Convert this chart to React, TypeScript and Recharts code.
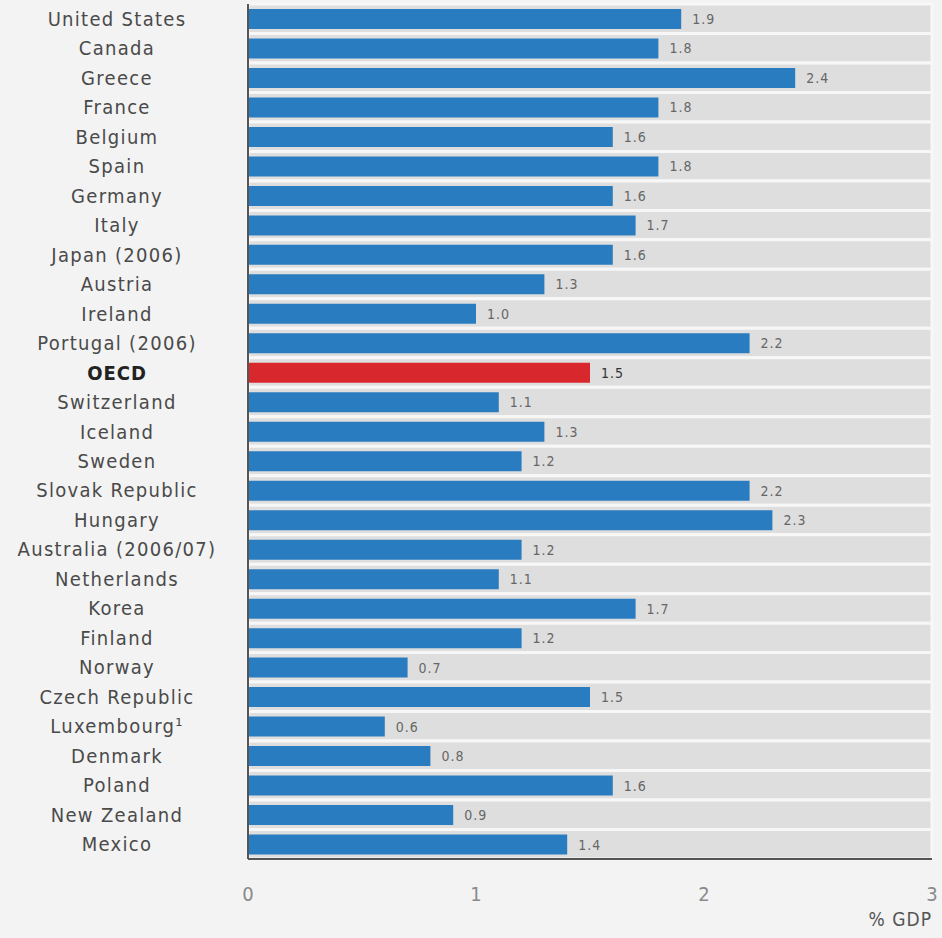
import React from 'react';
import { BarChart, Bar, XAxis, YAxis, Cell, LabelList, ReferenceArea, CartesianGrid, Label } from 'recharts';

const countries = [
  'United States', 'Canada', 'Greece', 'France', 'Belgium', 'Spain', 'Germany', 'Italy',
  'Japan (2006)', 'Austria', 'Ireland', 'Portugal (2006)', 'OECD', 'Switzerland', 'Iceland',
  'Sweden', 'Slovak Republic', 'Hungary', 'Australia (2006/07)', 'Netherlands', 'Korea',
  'Finland', 'Norway', 'Czech Republic', 'Luxembourg\u00b9', 'Denmark', 'Poland', 'New Zealand', 'Mexico',
];
const values = [
  1.9, 1.8, 2.4, 1.8, 1.6, 1.8, 1.6, 1.7, 1.6, 1.3, 1.0, 2.2, 1.5, 1.1, 1.3,
  1.2, 2.2, 2.3, 1.2, 1.1, 1.7, 1.2, 0.7, 1.5, 0.6, 0.8, 1.6, 0.9, 1.4,
];
const xTicks = [0, 1, 2, 3];
const highlight = 'OECD';

const data = countries.map((c, i) => ({ name: c, value: values[i] }));

const FONT = '"DejaVu Sans Condensed", "DejaVu Sans", sans-serif';

const YTick = (props: any) => {
  const { y, payload } = props;
  const isH = payload.value === highlight;
  return (
    <text x={117} y={y} dy={7} textAnchor="middle" fontFamily={FONT} fontSize={20}
      style={{ fontStretch: 'condensed', letterSpacing: isH ? 1 : 1.3 }}
      fontWeight={isH ? 700 : 400} fill={isH ? '#222' : '#4a4a4a'}>
      {payload.value}
    </text>
  );
};

const ValueLabel = (props: any) => {
  const { x, y, width, height, value, index } = props;
  const isH = countries[index] === highlight;
  return (
    <text x={x + width + 11} y={y + height / 2} dy={5} fontFamily={FONT} fontSize={14}
      style={{ fontStretch: 'condensed', letterSpacing: 1 }}
      fill={isH ? '#333' : '#666'}>
      {Number(value).toFixed(1)}
    </text>
  );
};

const GdpLabel = (props: any) => {
  const { viewBox } = props;
  return (
    <text x={viewBox.x + viewBox.width} y={viewBox.y + 67} textAnchor="end"
      fontFamily={FONT} fontSize={19} style={{ fontStretch: 'condensed', letterSpacing: 1 }}
      fill="#555">% GDP</text>
  );
};

export default function App() {
  return (
    <div style={{ position: 'absolute', left: 0, top: 0, width: 942, height: 938, background: '#f3f3f3' }}>
      <BarChart width={942} height={938} data={data} layout="vertical"
        margin={{ top: 4, right: 10, bottom: 39, left: 0 }} barSize={20}>
        {countries.map((c) => (
          <ReferenceArea key={c} y1={c} y2={c} x1={0} x2={3} fill="#dedede" fillOpacity={1}
            stroke="#f7f7f7" strokeWidth={3} ifOverflow="visible" />
        ))}
        <CartesianGrid horizontal={false} vertical stroke="#f4f4f4" strokeWidth={1.5} />
        <XAxis type="number" domain={[0, 3]} ticks={xTicks} axisLine={{ stroke: '#555', strokeWidth: 2 }}
          tickLine={false} tickMargin={22} height={40}
          tick={{ fontFamily: FONT, fontSize: 20, fill: '#8a8a8a', style: { fontStretch: 'condensed' } }}>
          <Label content={<GdpLabel />} />
        </XAxis>
        <YAxis type="category" dataKey="name" width={248} axisLine={{ stroke: '#555', strokeWidth: 2 }}
          tickLine={false} tick={<YTick />} interval={0} />
        <Bar dataKey="value" isAnimationActive={false}>
          {data.map((d) => (
            <Cell key={d.name} fill={d.name === highlight ? '#d8282e' : '#2a7cc0'} />
          ))}
          <LabelList dataKey="value" content={<ValueLabel />} />
        </Bar>
      </BarChart>
    </div>
  );
}
